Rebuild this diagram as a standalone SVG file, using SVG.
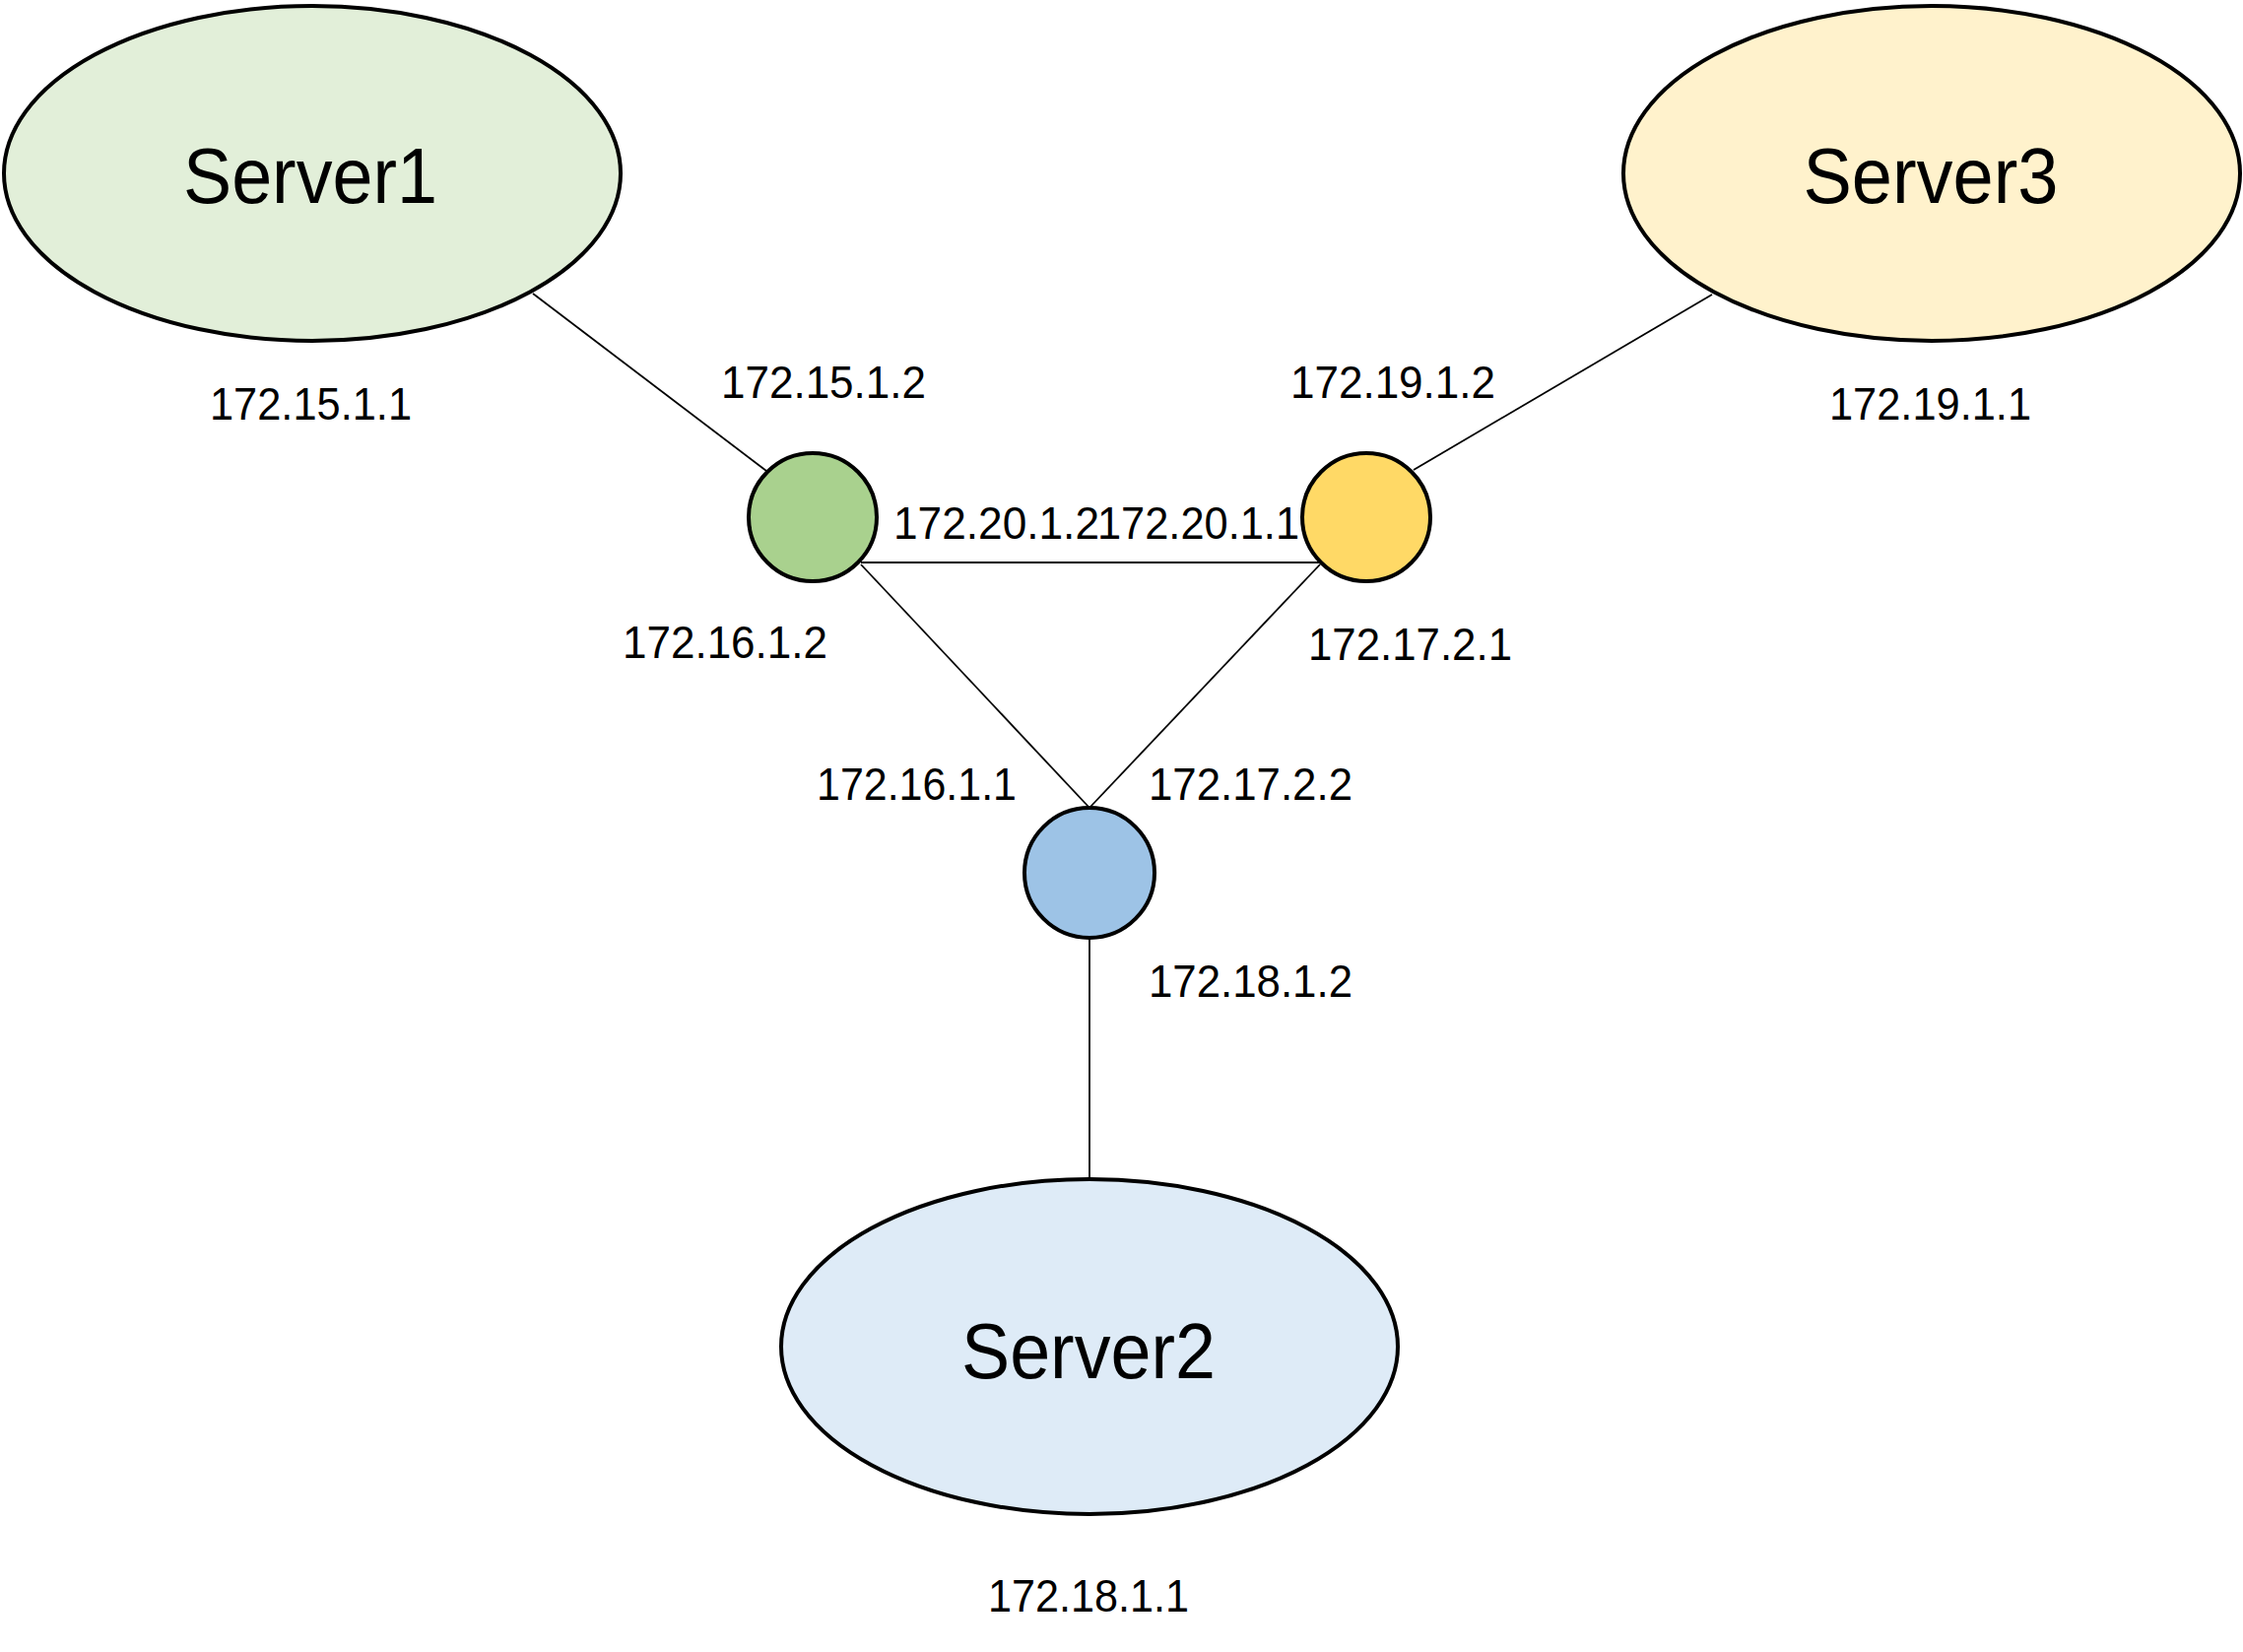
<svg xmlns="http://www.w3.org/2000/svg" width="2277" height="1677" viewBox="0 0 2277 1677">
  <style>
    .server { stroke: #000; stroke-width: 4; }
    .router { stroke: #000; stroke-width: 4; }
    .name { font-family: "Liberation Sans", Arial, sans-serif; font-size: 80px; fill: #000; text-anchor: middle; }
    .ip { font-family: "Liberation Sans", Arial, sans-serif; font-size: 46px; fill: #000; }
    .link { stroke: #000; stroke-width: 1.8; fill: none; }
  </style>
  <rect width="2277" height="1677" fill="#ffffff"/>

  <!-- links between servers and routers -->
  <g id="connectors">
    <line class="link" x1="541" y1="298" x2="778" y2="478"/>
    <line class="link" x1="1738" y1="299" x2="1435" y2="477"/>
    <line class="link" x1="874" y1="571" x2="1340" y2="571"/>
    <line class="link" x1="874" y1="573" x2="1106" y2="820"/>
    <line class="link" x1="1340" y1="573" x2="1106" y2="820"/>
    <line class="link" x1="1106" y1="952" x2="1106" y2="1197"/>
  </g>

  <g id="server1">
    <ellipse class="server" cx="317" cy="176" rx="313" ry="170" fill="#e2efd9"/>
    <text class="name" x="315" y="206" textLength="258" lengthAdjust="spacingAndGlyphs">Server1</text>
  </g>

  <g id="server3">
    <ellipse class="server" cx="1961" cy="176" rx="313" ry="170" fill="#fff2cc"/>
    <text class="name" x="1960" y="206" textLength="259" lengthAdjust="spacingAndGlyphs">Server3</text>
  </g>

  <g id="server2">
    <ellipse class="server" cx="1106" cy="1367" rx="313" ry="170" fill="#deebf7"/>
    <text class="name" x="1105" y="1399" textLength="258" lengthAdjust="spacingAndGlyphs">Server2</text>
  </g>

  <g id="router-green">
    <circle class="router" cx="825" cy="525" r="65" fill="#a9d18e"/>
  </g>

  <g id="router-yellow">
    <circle class="router" cx="1387" cy="525" r="65" fill="#ffd966"/>
  </g>

  <g id="router-blue">
    <circle class="router" cx="1106" cy="886" r="66" fill="#9dc3e6"/>
  </g>

  <!-- interface addresses -->
  <g id="addresses">
    <text class="ip" x="213" y="426" textLength="205" lengthAdjust="spacingAndGlyphs">172.15.1.1</text>
    <text class="ip" x="732" y="404" textLength="208" lengthAdjust="spacingAndGlyphs">172.15.1.2</text>
    <text class="ip" x="1310" y="404" textLength="208" lengthAdjust="spacingAndGlyphs">172.19.1.2</text>
    <text class="ip" x="1857" y="426" textLength="205" lengthAdjust="spacingAndGlyphs">172.19.1.1</text>
    <text class="ip" x="907" y="547" textLength="209" lengthAdjust="spacingAndGlyphs">172.20.1.2</text>
    <text class="ip" x="1114" y="547" textLength="205" lengthAdjust="spacingAndGlyphs">172.20.1.1</text>
    <text class="ip" x="632" y="668" textLength="208" lengthAdjust="spacingAndGlyphs">172.16.1.2</text>
    <text class="ip" x="1328" y="670" textLength="207" lengthAdjust="spacingAndGlyphs">172.17.2.1</text>
    <text class="ip" x="829" y="812" textLength="203" lengthAdjust="spacingAndGlyphs">172.16.1.1</text>
    <text class="ip" x="1166" y="812" textLength="207" lengthAdjust="spacingAndGlyphs">172.17.2.2</text>
    <text class="ip" x="1166" y="1012" textLength="207" lengthAdjust="spacingAndGlyphs">172.18.1.2</text>
    <text class="ip" x="1003" y="1636" textLength="204" lengthAdjust="spacingAndGlyphs">172.18.1.1</text>
  </g>
</svg>
